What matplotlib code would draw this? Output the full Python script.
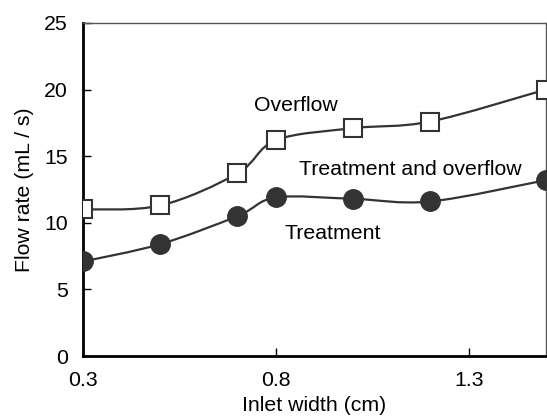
import numpy as np
import matplotlib.pyplot as plt
from matplotlib.path import Path
from matplotlib.patches import PathPatch

plt.rcParams['font.family'] = ['Liberation Sans', 'DejaVu Sans']

# Inlet width (cm) and flow rate (mL/s)
inlet_width = [0.3, 0.5, 0.7, 0.8, 1.0, 1.2, 1.5]
overflow = [11.0, 11.3, 13.7, 16.2, 17.1, 17.6, 20.0]
treatment = [7.1, 8.4, 10.5, 11.9, 11.8, 11.6, 13.2]

x_ticks = [0.3, 0.8, 1.3]
y_ticks = [0, 5, 10, 15, 20, 25]

line_color = '#333333'
font_size = 15.3


def smooth_path(x, y):
    '''
    Excel-like smoothed line: cubic Bezier segments through every point.
    '''
    pts = np.column_stack([x, y])
    verts = [pts[0]]
    codes = [Path.MOVETO]
    n = len(pts)
    for i in range(n - 1):
        p0 = pts[i - 1] if i > 0 else pts[i]
        p1 = pts[i]
        p2 = pts[i + 1]
        p3 = pts[i + 2] if i + 2 < n else pts[i + 1]
        c1 = p1 + (p2 - p0) / 6
        c2 = p2 - (p3 - p1) / 6
        verts += [c1, c2, p2]
        codes += [Path.CURVE4] * 3
    return Path(verts, codes)


fig = plt.figure(figsize=(5.47, 4.16), dpi=100)
ax = fig.add_axes([0.152, 0.144, 0.846, 0.801])

for series in (overflow, treatment):
    ax.add_patch(PathPatch(smooth_path(inlet_width, series), facecolor='none',
                           edgecolor=line_color, linewidth=1.6, zorder=2))

ax.plot(inlet_width, overflow, linestyle='none', marker='s', markersize=13,
        markerfacecolor='white', markeredgecolor=line_color, markeredgewidth=1.5, zorder=3)
ax.plot(inlet_width, treatment, linestyle='none', marker='o', markersize=14,
        markerfacecolor=line_color, markeredgecolor=line_color, zorder=3)

ax.text(0.744, 18.8, 'Overflow', fontsize=font_size, ha='left', va='center')
ax.text(0.861, 14.0, 'Treatment and overflow', fontsize=font_size, ha='left', va='center')
ax.text(0.822, 9.2, 'Treatment', fontsize=font_size, ha='left', va='center')

ax.set_xlim(0.3, 1.5)
ax.set_ylim(0, 25)
ax.set_xticks(x_ticks)
ax.set_xticklabels([str(t) for t in x_ticks])
ax.set_yticks(y_ticks)
ax.tick_params(direction='in', length=6, width=1, labelsize=font_size)
ax.tick_params(axis='x', pad=11)
ax.tick_params(axis='y', pad=11)
ax.set_xlabel('Inlet width (cm)', fontsize=font_size, labelpad=4)
ax.set_ylabel('Flow rate (mL / s)', fontsize=font_size, labelpad=7)

ax.spines['left'].set_linewidth(2)
ax.spines['bottom'].set_linewidth(2)
for side in ('top', 'right'):
    ax.spines[side].set_linewidth(1)
    ax.spines[side].set_color('#555555')

fig.savefig('out.png', dpi=100)
